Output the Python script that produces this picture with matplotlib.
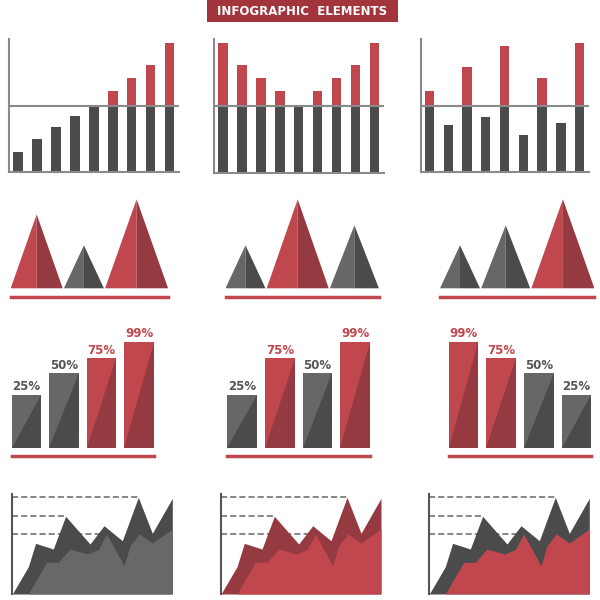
import numpy as np
import matplotlib
matplotlib.use("Agg")
import matplotlib.pyplot as plt

# colours
RED = "#c1474f"
RED_DARK = "#953a40"
GRAY = "#676767"
GRAY_DARK = "#4b4b4b"
AXIS_GRAY = "#8a8a8a"
TITLE_BG = "#a2343c"

# row 1: bar charts with a threshold at 50
bars_1 = [15, 25, 34, 42, 50, 61, 71, 81, 97]
bars_2 = [97, 81, 71, 61, 50, 61, 71, 81, 97]
bars_3 = [61, 35, 79, 41, 95, 28, 71, 37, 97]
threshold = 50

# row 2: triangles (base width, height, colour)
tri_w = [[52, 40, 63], [40, 62, 49], [40, 49, 63]]
tri_h = [[74, 43, 89], [43, 89, 63], [43, 63, 89]]
tri_c = [["red", "gray", "red"], ["gray", "red", "gray"], ["gray", "gray", "red"]]

# row 3: percentage bars
pct_1 = [25, 50, 75, 99]
pct_2 = [25, 75, 50, 99]
pct_3 = [99, 75, 50, 25]
pct_height = {25: 52.7, 50: 74.3, 75: 89.3, 99: 106}

# row 4: area charts (back and front series)
back_x = [0, 16, 23.3, 41, 53.3, 77.7, 91.7, 110, 126, 140, 160]
back_y = [0, 27.3, 50.7, 45, 77.7, 50, 68.3, 53.3, 96.7, 60.7, 95.7]
front_x = [16, 34.3, 46, 57.7, 75, 86, 94.3, 111.7, 117.7, 127, 140, 160]
front_y = [0, 31.7, 31.7, 45, 40, 44.3, 60, 28.3, 48.3, 60, 51, 65]

W, H = 600, 600
fig = plt.figure(figsize=(6, 6), dpi=100)
fig.patch.set_facecolor("white")


def px_axes(left, top, right, bottom):
    ax = fig.add_axes([left / W, 1 - bottom / H, (right - left) / W, (bottom - top) / H])
    ax.set_xticks([])
    ax.set_yticks([])
    ax.patch.set_alpha(0)
    for s in ax.spines.values():
        s.set_visible(False)
    return ax


# title
ax = px_axes(206.7, 0, 398.3, 22.3)
ax.patch.set_alpha(1)
ax.set_facecolor(TITLE_BG)
ax.text(0.5, 0.5, "INFOGRAPHIC  ELEMENTS", color="white", fontsize=8.5,
        fontweight="bold", ha="center", va="center", transform=ax.transAxes)

# row 1
for vals, (l, r, b) in zip([bars_1, bars_2, bars_3],
                           [(9.3, 179, 172), (214, 384, 172.7), (420.7, 589, 171.7)]):
    ax = px_axes(l, 39.3, r, b)
    v = np.array(vals)
    idx = np.arange(len(v))
    ax.bar(idx, np.minimum(v, threshold), width=0.5, color=GRAY_DARK)
    ax.bar(idx, np.maximum(v - threshold, 0), bottom=threshold, width=0.5, color=RED)
    ax.axhline(threshold, color=AXIS_GRAY, lw=1.5, zorder=3)
    for s in ("left", "bottom"):
        ax.spines[s].set_visible(True)
        ax.spines[s].set_color(AXIS_GRAY)
        ax.spines[s].set_linewidth(1.5)
    ax.set_xlim(-0.47, len(v) - 0.5)
    ax.set_ylim(0, 100)

# row 2
for ws, hs, cs, l in zip(tri_w, tri_h, tri_c, [10.7, 225.5, 440]):
    gap = 1.2
    total = sum(ws) + gap * (len(ws) - 1)
    ax = px_axes(l, 193.3, l + total, 297)
    x0 = 0
    for w, h, c in zip(ws, hs, cs):
        light, dark = (RED, RED_DARK) if c == "red" else (GRAY, GRAY_DARK)
        apex = x0 + w / 2
        ax.fill([x0, apex, apex], [0, h, 0], color=light, lw=0)
        ax.fill([apex, apex, x0 + w], [0, h, 0], color=dark, lw=0)
        x0 += w + gap
    ax.spines["bottom"].set_visible(True)
    ax.spines["bottom"].set_color(RED)
    ax.spines["bottom"].set_linewidth(2.5)
    ax.set_xlim(0, total)
    ax.set_ylim(-8.7, 95)

# row 3
bw = 0.79
for pcts, (l, r) in zip([pct_1, pct_2, pct_3],
                        [(11.7, 154), (227.3, 370), (448.7, 591.3)]):
    ax = px_axes(l, 327.7, r, 456.3)
    for i, p in enumerate(pcts):
        h = pct_height[p]
        is_red = p >= 75
        light, dark = (RED, RED_DARK) if is_red else (GRAY, GRAY_DARK)
        ax.bar(i, h, width=bw, color=dark)
        ax.fill([i - bw / 2, i - bw / 2, i + bw / 2], [0, h, h], color=light, lw=0)
        ax.text(i, h + 1.5, f"{p}%", ha="center", va="bottom", fontsize=8.5,
                fontweight="bold", color=RED if is_red else "#555555")
    ax.spines["bottom"].set_visible(True)
    ax.spines["bottom"].set_color(RED)
    ax.spines["bottom"].set_linewidth(2.5)
    ax.set_xlim(-bw / 2, len(pcts) - 1 + bw / 2)
    ax.set_ylim(-8.6, 120)

# row 4
bx, by = np.array(back_x), np.array(back_y)
fx, fy = np.array(front_x), np.array(front_y)
peaks = [(bx[8], by[8]), (bx[4], by[4]), (fx[6], fy[6])]
for (back_c, front_c), l in zip([(GRAY_DARK, "#686868"), (RED_DARK, RED), (GRAY_DARK, RED)],
                                [12.3, 221, 429.3]):
    ax = px_axes(l, 494, l + 160, 594)
    for px, py in peaks:
        ax.hlines(py, 0, px, colors="#666666", lw=1.1, linestyles=(0, (4, 2)), zorder=1)
    ax.fill_between(bx, by, 0, color=back_c, lw=0, zorder=2)
    ax.fill_between(fx, fy, 0, color=front_c, lw=0, zorder=3)
    ax.spines["left"].set_visible(True)
    ax.spines["left"].set_color("#555555")
    ax.spines["left"].set_linewidth(1.5)
    ax.set_xlim(0, 160)
    ax.set_ylim(0, 100)

fig.savefig("out.png", dpi=100, facecolor="white")
